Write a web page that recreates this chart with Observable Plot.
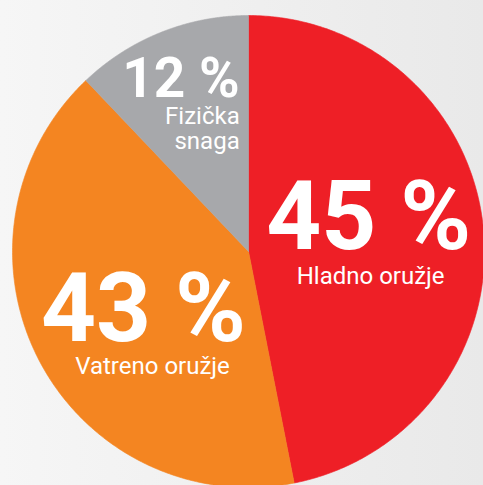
<!DOCTYPE html>
<html><head><meta charset="utf-8">
<script src="https://cdn.jsdelivr.net/npm/d3@7"></script>
<script src="https://cdn.jsdelivr.net/npm/@observablehq/plot@0.6"></script>
<style>html,body{margin:0;padding:0;overflow:hidden;background:#efefef}</style>
</head><body><div id="chart"></div>
<script>
// ---- data ----
const categories = ["Hladno oružje", "Vatreno oružje", "Fizička snaga"];
const displayNames = ["Hladno oružje", "Vatreno oružje", "Fizička\nsnaga"];
const percentLabels = [45, 43, 12];
// slice sizes as actually drawn in the picture (the infographic does not draw the printed % to scale)
const drawnShares = [46.9, 41.0, 12.1];
const colors = ["#ee1f26", "#f48521", "#a7a8ab"];

// ---- layout ----
const W = 483, H = 485, cx = 248, cy = 251, R = 236;
const labelLayout = [
  {r: 0.52, anchor: "middle", numSize: 96, numDx: -2, numDy: 9,  nameDx: 0,  nameDy: 44},
  {r: 0.52, anchor: "middle", numSize: 96, numDx: 4,  numDy: 33, nameDx: 13, nameDy: 66},
  {r: 0.74, anchor: "end",    numSize: 55, numDx: 56, numDy: 8,  nameDx: 56, nameDy: 60}
];

const rows = categories.map((name, i) => ({name, share: drawnShares[i], pct: percentLabels[i], label: displayNames[i], i}));
const arcs = d3.pie().sort(null).value(d => d.share)(rows);

const N = 240;
const pts = [];
for (const a of arcs) {
  pts.push({name: a.data.name, x: 0, y: 0});
  for (let k = 0; k <= N; ++k) {
    const t = a.startAngle + (a.endAngle - a.startAngle) * k / N;
    pts.push({name: a.data.name, x: Math.sin(t), y: Math.cos(t)});
  }
  pts.push({name: a.data.name, x: 0, y: 0});
}

const textMarks = arcs.flatMap((a, i) => {
  const L = labelLayout[i];
  const mid = (a.startAngle + a.endAngle) / 2;
  const bx = L.r * Math.sin(mid), by = L.r * Math.cos(mid);
  return [
    Plot.text([a.data], {
      x: () => bx + L.numDx / R, y: () => by - L.numDy / R,
      text: d => `${d.pct} %`, fill: "white", fontSize: L.numSize, fontWeight: 700,
      textAnchor: L.anchor, lineAnchor: "bottom", fontFamily: "Roboto"
    }),
    Plot.text([a.data], {
      x: () => bx + L.nameDx / R, y: () => by - L.nameDy / R,
      text: d => d.label, fill: "white", fontSize: 24, fontWeight: 400, lineHeight: 1.04,
      textAnchor: L.anchor, lineAnchor: "bottom", fontFamily: "Roboto"
    })
  ];
});

const chart = Plot.plot({
  width: W, height: H, margin: 0,
  x: {domain: [(0 - cx) / R, (W - cx) / R], axis: null},
  y: {domain: [(cy - H) / R, cy / R], axis: null},
  color: {domain: categories, range: colors},
  style: {background: "linear-gradient(to right, #f6f6f6, #e9e9e9)", fontFamily: "Roboto"},
  marks: [
    Plot.line(pts, {x: "x", y: "y", z: "name", fill: "name", stroke: "name", strokeWidth: 0.6, curve: "linear"}),
    ...textMarks
  ]
});
document.getElementById("chart").appendChild(chart);
</script>
</body></html>
